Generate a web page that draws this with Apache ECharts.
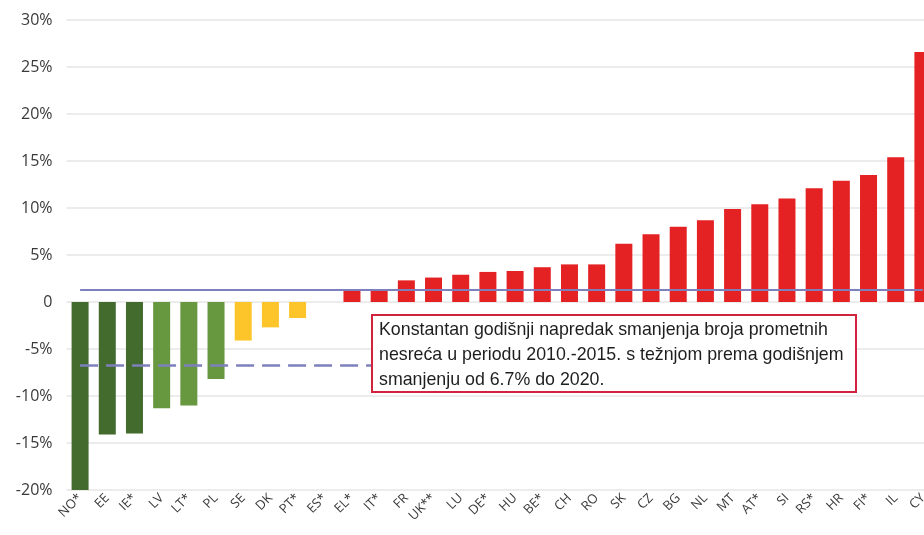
<!DOCTYPE html>
<html>
<head>
<meta charset="utf-8">
<script src="https://cdn.jsdelivr.net/npm/echarts@6/dist/echarts.min.js"></script>
<style>
html,body{margin:0;padding:0;background:#fff;}
#chart{width:924px;height:535px;}
</style>
</head>
<body>
<div id="chart"></div>
<script>
// ---- data ----
const categories = ['NO*','EE','IE*','LV','LT*','PL','SE','DK','PT*','ES*','EL*','IT*','FR','UK**','LU','DE*','HU','BE*','CH','RO','SK','CZ','BG','NL','MT','AT*','SI','RS*','HR','FI*','IL','CY'];
const values = [-20.0,-14.1,-14.0,-11.3,-11.0,-8.2,-4.1,-2.7,-1.7,0,1.3,1.3,2.3,2.6,2.9,3.2,3.3,3.7,4.0,4.0,6.2,7.2,8.0,8.7,9.9,10.4,11.0,12.1,12.9,13.5,15.4,26.6];
const groups = ['dark','dark','dark','light','light','light','yellow','yellow','yellow','yellow','red','red','red','red','red','red','red','red','red','red','red','red','red','red','red','red','red','red','red','red','red','red'];
const yTicks = [-20,-15,-10,-5,0,5,10,15,20,25,30];
const averageProgress = 1.35;   // solid line
const targetReduction = -6.7;   // dashed line
const annotation = 'Konstantan godišnji napredak smanjenja broja prometnih\nnesreća u periodu 2010.-2015. s težnjom prema godišnjem\nsmanjenju od 6.7% do 2020.';

// ---- styles ----
const groupColors = {dark:'#426b2d', light:'#67983f', yellow:'#fdc52a', red:'#e42123'};
const lineColor = '#7e80bd';

const chart = echarts.init(document.getElementById('chart'));
chart.setOption({
  animation:false,
  backgroundColor:'#fff',
  grid:{left:66.5, width:870, top:20, bottom:45, containLabel:false, outerBoundsMode:'none'},
  xAxis:{
    type:'category',
    data:categories,
    axisLine:{show:false},
    axisTick:{show:false},
    axisLabel:{rotate:45, interval:0, margin:6, fontSize:13, color:'#3a3a3a', fontFamily:'"Open Sans", sans-serif'}
  },
  yAxis:{
    type:'value',
    min:yTicks[0], max:yTicks[yTicks.length-1], interval:5,
    axisLine:{show:false},
    axisTick:{show:false},
    splitLine:{lineStyle:{color:'#e6e6e6', width:1.5}},
    axisLabel:{margin:14, fontSize:16, color:'#3a3a3a', fontFamily:'"Open Sans", sans-serif',
      formatter:v => v === 0 ? '0' : v + '%'}
  },
  series:[{
    type:'bar',
    barWidth:17,
    data:values.map((v,i)=>({value:v, itemStyle:{color:groupColors[groups[i]]}})),
    markLine:{
      silent:true,
      symbol:'none',
      label:{show:false},
      data:[
        [{coord:[categories[0], averageProgress], lineStyle:{type:'solid', color:lineColor, width:2.2}},
         {coord:[categories[categories.length-1], averageProgress]}],
        [{coord:[categories[0], targetReduction], lineStyle:{type:[18,8], color:lineColor, width:2.7}},
         {coord:[categories[11], targetReduction]}]
      ]
    }
  }],
  graphic:[
    {type:'rect', z:100, shape:{x:372, y:315, width:484, height:77},
     style:{fill:'#fff', stroke:'#d1243c', lineWidth:2}},
    {type:'text', z:101, x:379, y:318,
     style:{text:annotation, font:'17.8px "Liberation Sans", Arial, sans-serif', lineHeight:25, fill:'#1e1e1e'}}
  ]
});
</script>
</body>
</html>
